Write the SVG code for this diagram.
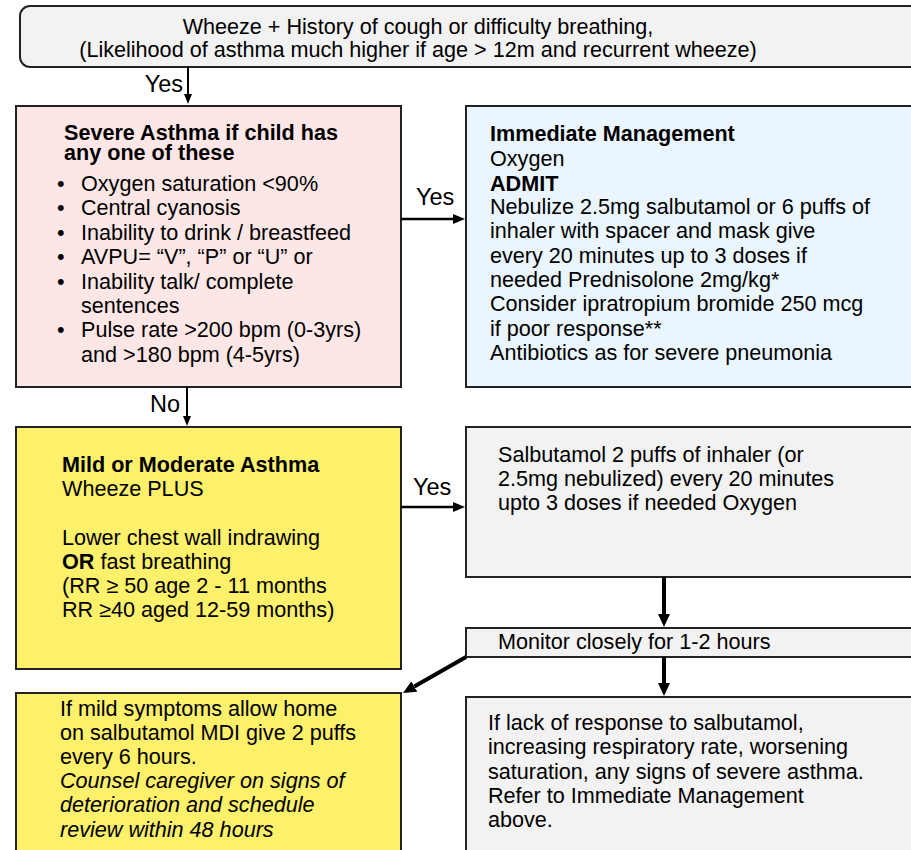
<svg xmlns="http://www.w3.org/2000/svg" width="911" height="850" viewBox="0 0 911 850">
<style>
text{font-family:"Liberation Sans",Arial,sans-serif;font-size:21.6px;fill:#000}
.b{font-weight:bold}
.i{font-style:italic}
.lbl{font-size:23.5px}
.box{stroke:#222;stroke-width:2}
.pink{fill:#fde7e6}
.blue{fill:#eaf5fd}
.yel{fill:#fdf06b}
.gray{fill:#f2f2f2}
.c{stroke:#000;fill:none}
</style>
<defs>
<marker id="ah1" markerUnits="userSpaceOnUse" markerWidth="10" markerHeight="8" refX="0" refY="4" orient="auto"><path d="M0,0 L10,4 L0,8 z" fill="#000"/></marker>
<marker id="ah2" markerUnits="userSpaceOnUse" markerWidth="12" markerHeight="10" refX="0" refY="5" orient="auto"><path d="M0,0 L12,5 L0,10 z" fill="#000"/></marker>
<marker id="ah3" markerUnits="userSpaceOnUse" markerWidth="13" markerHeight="12" refX="0" refY="6" orient="auto"><path d="M0,0 L13,6 L0,12 z" fill="#000"/></marker>
</defs>

<g id="start">
<rect class="box gray" x="20" y="6" width="905" height="61" rx="10"/>
<text x="418" y="34" text-anchor="middle">Wheeze + History of cough or difficulty breathing,</text>
<text x="418" y="57" text-anchor="middle">(Likelihood of asthma much higher if age &gt; 12m and recurrent wheeze)</text>
</g>

<g id="severe">
<rect class="box pink" x="16" y="106" width="385" height="281"/>
<text class="b" x="64" y="140">Severe Asthma if child has</text>
<text class="b" x="64" y="160">any one of these</text>
<text x="57" y="191">•</text><text x="81" y="191">Oxygen saturation &lt;90%</text>
<text x="57" y="215">•</text><text x="81" y="215">Central cyanosis</text>
<text x="57" y="240">•</text><text x="81" y="240">Inability to drink / breastfeed</text>
<text x="57" y="264">•</text><text x="81" y="264">AVPU= “V”, “P” or “U” or</text>
<text x="57" y="289">•</text><text x="81" y="289">Inability talk/ complete</text>
<text x="81" y="313">sentences</text>
<text x="57" y="337">•</text><text x="81" y="337">Pulse rate &gt;200 bpm (0-3yrs)</text>
<text x="81" y="362">and &gt;180 bpm (4-5yrs)</text>
</g>

<g id="immediate">
<rect class="box blue" x="466" y="106" width="460" height="281"/>
<text class="b" x="490" y="141">Immediate Management</text>
<text x="490" y="166">Oxygen</text>
<text class="b" x="490" y="191">ADMIT</text>
<text x="490" y="214">Nebulize 2.5mg salbutamol or 6 puffs of</text>
<text x="490" y="238">inhaler with spacer and mask give</text>
<text x="490" y="263">every 20 minutes up to 3 doses if</text>
<text x="490" y="287">needed Prednisolone 2mg/kg*</text>
<text x="490" y="311">Consider ipratropium bromide 250 mcg</text>
<text x="490" y="336">if poor response**</text>
<text x="490" y="360">Antibiotics as for severe pneumonia</text>
</g>

<g id="mild">
<rect class="box yel" x="16" y="427" width="385" height="242"/>
<text class="b" x="62" y="472">Mild or Moderate Asthma</text>
<text x="62" y="496">Wheeze PLUS</text>
<text x="62" y="545">Lower chest wall indrawing</text>
<text x="62" y="569"><tspan class="b">OR</tspan> fast breathing</text>
<text x="62" y="593">(RR ≥ 50 age 2 - 11 months</text>
<text x="62" y="617">RR ≥40 aged 12-59 months)</text>
</g>

<g id="salbutamol">
<rect class="box gray" x="466" y="427" width="460" height="150"/>
<text x="498" y="462">Salbutamol 2 puffs of inhaler (or</text>
<text x="498" y="486">2.5mg nebulized) every 20 minutes</text>
<text x="498" y="510">upto 3 doses if needed Oxygen</text>
</g>

<g id="monitor">
<rect class="box gray" x="466" y="628" width="460" height="29"/>
<text x="498" y="649">Monitor closely for 1-2 hours</text>
</g>

<g id="home">
<rect class="box yel" x="16" y="693" width="385" height="170"/>
<text x="60" y="716">If mild symptoms allow home</text>
<text x="60" y="740">on salbutamol MDI give 2 puffs</text>
<text x="60" y="764">every 6 hours.</text>
<text class="i" x="60" y="788">Counsel caregiver on signs of</text>
<text class="i" x="60" y="812">deterioration and schedule</text>
<text class="i" x="60" y="837">review within 48 hours</text>
</g>

<g id="refer">
<rect class="box gray" x="466" y="697" width="460" height="170"/>
<text x="488" y="730">If lack of response to salbutamol,</text>
<text x="488" y="754">increasing respiratory rate, worsening</text>
<text x="488" y="779">saturation, any signs of severe asthma.</text>
<text x="488" y="803">Refer to Immediate Management</text>
<text x="488" y="827">above.</text>
</g>

<g id="connectors">
<line class="c" x1="188" y1="67" x2="188" y2="94" stroke-width="2" marker-end="url(#ah1)"/>
<text class="lbl" x="183" y="92" text-anchor="end">Yes</text>
<line class="c" x1="401" y1="219" x2="453" y2="219" stroke-width="2.5" marker-end="url(#ah2)"/>
<text class="lbl" x="416" y="205">Yes</text>
<line class="c" x1="187" y1="387" x2="187" y2="416" stroke-width="2" marker-end="url(#ah1)"/>
<text class="lbl" x="150" y="412">No</text>
<line class="c" x1="401" y1="507" x2="453" y2="507" stroke-width="2.5" marker-end="url(#ah2)"/>
<text class="lbl" x="413" y="495">Yes</text>
<line class="c" x1="664" y1="577" x2="664" y2="614" stroke-width="4" marker-end="url(#ah3)"/>
<line class="c" x1="664" y1="657" x2="664" y2="683" stroke-width="4" marker-end="url(#ah3)"/>
<line class="c" x1="466" y1="657" x2="414.3" y2="686.5" stroke-width="4" marker-end="url(#ah3)"/>
</g>
</svg>
